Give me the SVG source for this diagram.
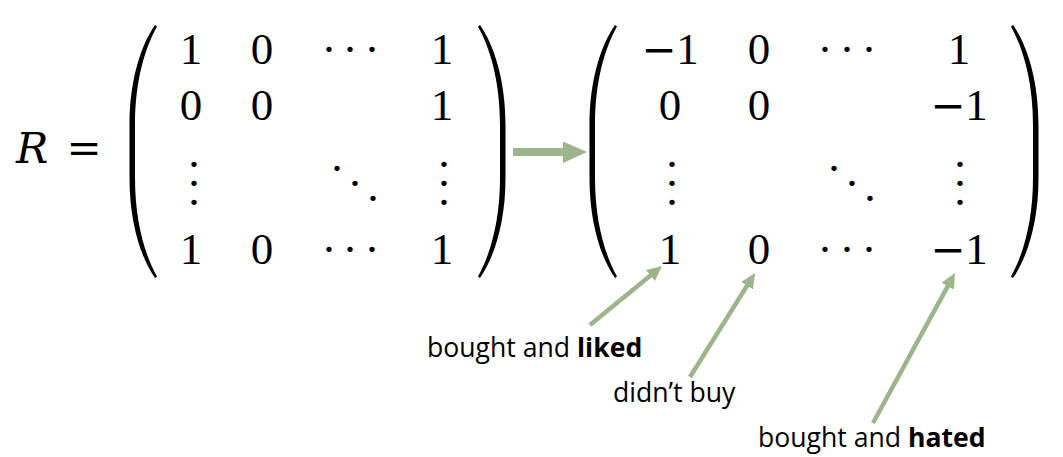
<svg xmlns="http://www.w3.org/2000/svg" xmlns:xlink="http://www.w3.org/1999/xlink" width="1063" height="457" viewBox="0 0 1063 457">
  <style>
    .m { font-family: "Liberation Serif", "Times New Roman", serif; font-size: 45px; fill: #000; }
    .mi { font-family: "DejaVu Serif", serif; font-style: italic; font-size: 43px; fill: #000; }
    .op { font-family: "DejaVu Serif", serif; font-size: 42px; fill: #000; }
    .c { text-anchor: middle; }
    .lbl { font-family: "Open Sans", "Noto Sans", sans-serif; font-size: 26.6px; fill: #000; }
    .b { font-weight: bold; }
    .paren { fill: #000; }
    .conn { stroke: #9db48c; stroke-width: 4.5; fill: none; marker-end: url(#head); }
  </style>
  <defs>
    <path id="lparen" d="M25.5,0 C11.5,20 0,55 0,100 L0,153 C0,198 11.5,233 25.5,253 L27.5,251.5 C15.5,230 5.5,197 5.5,153 L5.5,100 C5.5,56 15.5,23 27.5,1.5 Z"/>
    <marker id="head" markerUnits="userSpaceOnUse" markerWidth="16" markerHeight="14" refX="4" refY="7" orient="auto">
      <path d="M0,0 L15,7 L0,14 Z" fill="#9db48c"/>
    </marker>
  </defs>
  <rect width="1063" height="457" fill="#fff"/>

  <g id="lhs">
    <text class="mi" x="16" y="163">R</text>
    <text class="op" x="84" y="163" text-anchor="middle">=</text>
  </g>

  <g id="matrix-before">
    <use xlink:href="#lparen" class="paren" transform="translate(129.5,25)"/>
    <use xlink:href="#lparen" class="paren" transform="translate(505.5,25) scale(-1,1)"/>
    <text class="m c" x="191" y="64">1</text>
    <text class="m c" x="262" y="64">0</text>
    <text class="m" x="321.4 342.4 364.4" y="64">···</text>
    <text class="m c" x="442" y="64">1</text>
    <text class="m c" x="191" y="120">0</text>
    <text class="m c" x="262" y="120">0</text>
    <text class="m c" x="442" y="120">1</text>
    <text class="m" x="186.4 186.4 186.4" y="178.5 197.5 216.5">···</text>
    <text class="m" x="329.4 347.4 365.4" y="182.5 197.5 212.5">···</text>
    <text class="m" x="436.4 436.4 436.4" y="178.5 197.5 216.5">···</text>
    <text class="m c" x="191" y="264">1</text>
    <text class="m c" x="262" y="264">0</text>
    <text class="m" x="321.4 342.4 364.4" y="264">···</text>
    <text class="m c" x="442" y="264">1</text>
  </g>

  <g id="transform-arrow">
    <polygon points="513,148 563,148 563,141.5 587,152 563,163 563,156 513,156" fill="#9db48c"/>
  </g>

  <g id="matrix-after">
    <use xlink:href="#lparen" class="paren" transform="translate(589.5,25)"/>
    <use xlink:href="#lparen" class="paren" transform="translate(1038.5,25) scale(-1,1)"/>
    <text class="m c" x="670" y="64"><tspan font-family="DejaVu Serif" font-size="42">−</tspan>1</text>
    <text class="m c" x="759" y="64">0</text>
    <text class="m" x="817.4 839.4 861.4" y="64">···</text>
    <text class="m c" x="959" y="64">1</text>
    <text class="m c" x="670" y="120">0</text>
    <text class="m c" x="759" y="120">0</text>
    <text class="m c" x="959" y="120"><tspan font-family="DejaVu Serif" font-size="42">−</tspan>1</text>
    <text class="m" x="664.4 664.4 664.4" y="178.5 197.5 216.5">···</text>
    <text class="m" x="826.4 844.4 862.4" y="182.5 197.5 212.5">···</text>
    <text class="m" x="952.4 952.4 952.4" y="178.5 197.5 216.5">···</text>
    <text class="m c" x="670" y="264">1</text>
    <text class="m c" x="759" y="264">0</text>
    <text class="m" x="817.4 839.4 861.4" y="264">···</text>
    <text class="m c" x="959" y="264"><tspan font-family="DejaVu Serif" font-size="42">−</tspan>1</text>
  </g>

  <g id="label-liked">
    <text class="lbl" x="427" y="357">bought and <tspan class="b">liked</tspan></text>
  </g>
  <g id="label-didnt-buy">
    <text class="lbl" x="613" y="402">didn’t buy</text>
  </g>
  <g id="label-hated">
    <text class="lbl" x="758" y="447">bought and <tspan class="b">hated</tspan></text>
  </g>

  <g id="connectors">
    <line class="conn" x1="590" y1="325" x2="653.5" y2="273"/>
    <line class="conn" x1="690" y1="377" x2="749.2" y2="282.3"/>
    <line class="conn" x1="873" y1="423" x2="949.7" y2="282.6"/>
  </g>
</svg>
